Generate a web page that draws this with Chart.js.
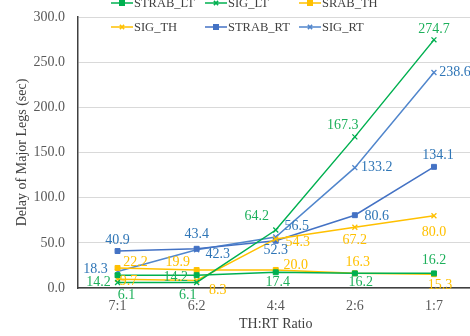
<!DOCTYPE html>
<html>
<head>
<meta charset="utf-8">
<script src="https://cdn.jsdelivr.net/npm/chart.js@4/dist/chart.umd.min.js"></script>
<style>
  html, body { margin: 0; padding: 0; overflow: hidden; background: #fff; }
  #wrap { width: 480px; height: 336px; }
</style>
</head>
<body>
<div id="wrap"><canvas id="c"></canvas></div>
<script>
// Categories and series values (delay in seconds)
const ratios  = ['7:1', '6:2', '4:4', '2:6', '1:7'];
const strabLT = [14.2, 14.2, 17.4, 16.2, 16.2];
const sigLT   = [6.1, 6.1, 64.2, 167.3, 274.7];
const srabTH  = [22.2, 19.9, 20.0, 16.3, 15.3];
const sigTH   = [9.7, 8.3, 54.3, 67.2, 80.0];
const strabRT = [40.9, 43.4, 52.3, 80.6, 134.1];
const sigRT   = [18.3, 42.3, 56.5, 133.2, 238.6];
const yTickValues = [0, 50, 100, 150, 200, 250, 300];

const SERIF = '"Liberation Serif", "Times New Roman", serif';
const GREEN = '#00B050', YELLOW = '#FFC000', BLUE = '#4472C4', BLUE2 = '#5186CC';
const GREEN_TXT = '#1DB05B', YELLOW_TXT = '#FFC000', BLUE_TXT = '#2E75B6';

// Per-point label offsets (dx, dy) from each marker, in pixels
const labelPlacement = {
  STRAB_LT: [[-19, 7], [-21, 2], [2, 10], [6, 9], [0, -13]],
  SIG_LT:   [[9, 13], [-9, 13], [-19, -14], [-12, -12], [0, -11]],
  SRAB_TH:  [[18, -6], [-19, -8], [20, -5], [3, -11], [6, 11]],
  SIG_TH:   [[11, 2], [21, 10], [22, 3], [0, 13], [0, 17]],
  STRAB_RT: [[0, -11], [0, -14], [0, 10], [22, 1], [4, -12]],
  SIG_RT:   [[-22, -2], [21, 5], [21, -11], [22, 0], [21, 0]]
};

function series(label, data, color, textColor, style) {
  return {
    label, data,
    borderColor: color, backgroundColor: color,
    borderWidth: 1.5,
    pointStyle: style,
    pointRadius: 3.5,
    pointBorderWidth: style === 'rect' ? 1 : 1.3,
    pointBorderColor: color,
    pointBackgroundColor: color,
    tension: 0,
    labelColor: textColor
  };
}

const datasets = [
  series('STRAB_LT', strabLT, GREEN, GREEN_TXT, 'rect'),
  series('SIG_LT', sigLT, GREEN, GREEN_TXT, 'crossRot'),
  series('SRAB_TH', srabTH, YELLOW, YELLOW_TXT, 'rect'),
  series('SIG_TH', sigTH, YELLOW, YELLOW_TXT, 'crossRot'),
  series('STRAB_RT', strabRT, BLUE, BLUE_TXT, 'rect'),
  series('SIG_RT', sigRT, BLUE2, BLUE_TXT, 'crossRot')
];

// Value labels next to each marker
const valueLabels = {
  id: 'valueLabels',
  afterDatasetsDraw(chart) {
    const ctx = chart.ctx;
    ctx.save();
    ctx.font = '14px ' + SERIF;
    ctx.textAlign = 'center';
    ctx.textBaseline = 'middle';
    chart.data.datasets.forEach((ds, i) => {
      const meta = chart.getDatasetMeta(i);
      const offs = labelPlacement[ds.label];
      ctx.fillStyle = ds.labelColor;
      meta.data.forEach((pt, j) => {
        const [dx, dy] = offs[j];
        ctx.fillText(ds.data[j].toFixed(1), pt.x + dx, pt.y + dy);
      });
    });
    ctx.restore();
  }
};

// Two-row legend laid over the top of the plot
const overlayLegend = {
  id: 'overlayLegend',
  afterDraw(chart) {
    const ctx = chart.ctx;
    const cols = [111, 205, 299];
    const rows = [3, 27];
    ctx.save();
    ctx.font = '12.5px ' + SERIF;
    ctx.textBaseline = 'middle';
    ctx.textAlign = 'left';
    chart.data.datasets.forEach((ds, i) => {
      const x = cols[i % 3], y = rows[Math.floor(i / 3)];
      ctx.strokeStyle = ds.borderColor;
      ctx.lineWidth = 1.5;
      ctx.beginPath();
      ctx.moveTo(x, y);
      ctx.lineTo(x + 22, y);
      ctx.stroke();
      Chart.helpers.drawPoint(ctx, {
        pointStyle: ds.pointStyle, radius: 3, borderWidth: 1.2
      }, x + 11, y);
      ctx.fillStyle = ds.borderColor;
      if (ds.pointStyle === 'rect') ctx.fillRect(x + 8, y - 3, 6, 6);
      ctx.fillStyle = '#404040';
      ctx.fillText(ds.label, x + 23, y + 1);
    });
    ctx.restore();
  }
};

new Chart(document.getElementById('c'), {
  type: 'line',
  data: { labels: ratios, datasets },
  plugins: [valueLabels, overlayLegend],
  options: {
    responsive: true,
    maintainAspectRatio: false,
    animation: false,
    layout: { padding: { top: 17, right: 6.5, left: 0, bottom: 0 } },
    plugins: { legend: { display: false }, tooltip: { enabled: false } },
    scales: {
      x: {
        offset: true,
        grid: { display: false, drawTicks: false },
        border: { display: true, color: '#404040', width: 1.5 },
        ticks: { color: '#595959', font: { family: SERIF, size: 14 }, padding: 10 },
        title: {
          display: true, text: 'TH:RT Ratio', color: '#404040',
          font: { family: SERIF, size: 14 }, padding: { top: 0, bottom: 3 }
        },
        afterFit(scale) { scale.height = 48; scale.paddingLeft = 0; scale.paddingRight = 0; }
      },
      y: {
        min: 0, max: 300,
        afterBuildTicks(scale) { scale.ticks = yTickValues.map(v => ({ value: v })); },
        grid: { color: '#D9D9D9', lineWidth: 1, drawTicks: false },
        border: { display: true, color: '#404040', width: 1.5 },
        ticks: {
          color: '#595959', font: { family: SERIF, size: 14 }, padding: 13,
          callback: v => Number(v).toFixed(1)
        },
        title: {
          display: true, text: 'Delay of Major Legs (sec)', color: '#404040',
          font: { family: SERIF, size: 14 }, padding: { top: 14, bottom: 0 }
        },
        afterFit(scale) { scale.width = 78; scale.paddingTop = 0; scale.paddingBottom = 0; }
      }
    }
  }
});
</script>
</body>
</html>
